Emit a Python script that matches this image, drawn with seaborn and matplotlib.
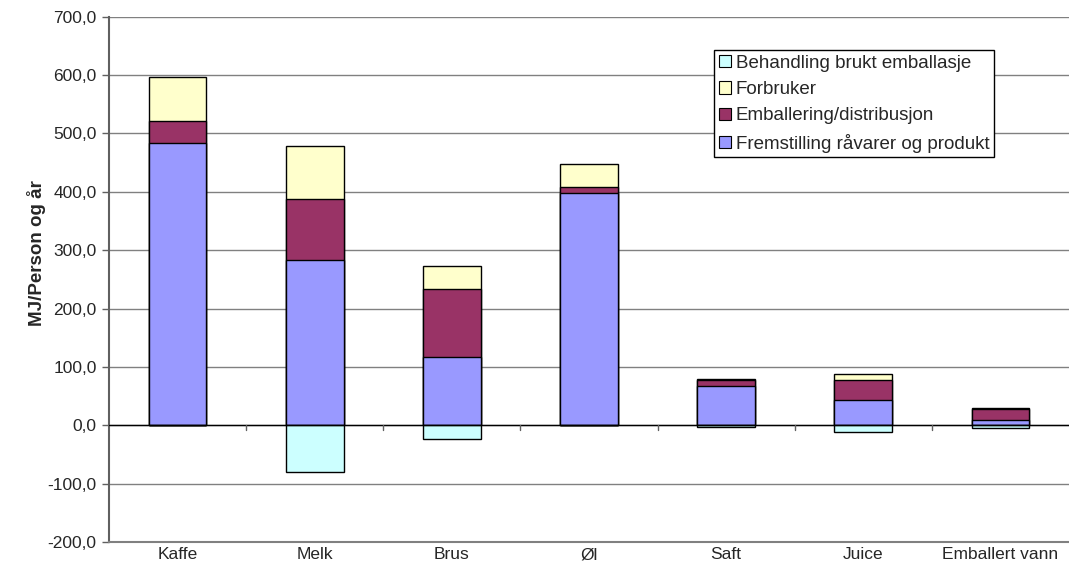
import matplotlib
matplotlib.use("Agg")
import matplotlib.pyplot as plt
from matplotlib.patches import Patch
from matplotlib.ticker import FuncFormatter, MultipleLocator
import numpy as np
import pandas as pd
import seaborn as sns

# Energy use per drink category (MJ per person and year)
categories = ["Kaffe", "Melk", "Brus", "Øl", "Saft", "Juice", "Emballert vann"]
fremstilling = [484, 283, 117, 398, 67, 44, 9]
emballering = [38, 105, 117, 10, 11, 34, 19]
forbruker = [74, 91, 39, 39, 1, 10, 2]
behandling = [0, -80, -24, 0, -3.5, -12, -4.5]

labels = [
    "Fremstilling råvarer og produkt",
    "Emballering/distribusjon",
    "Forbruker",
    "Behandling brukt emballasje",
]
colors = {
    "Fremstilling råvarer og produkt": "#9999FF",
    "Emballering/distribusjon": "#993366",
    "Forbruker": "#FFFFCC",
    "Behandling brukt emballasje": "#CCFFFF",
}

sns.set_theme(style="white")
plt.rcParams["font.family"] = ["Liberation Sans", "DejaVu Sans"]

df = pd.DataFrame({
    "kategori": categories,
    "fremstilling": fremstilling,
    "emballering": emballering,
    "forbruker": forbruker,
    "behandling": behandling,
})
# Cumulative tops for the stacked positive segments
df["lag1"] = df["fremstilling"]
df["lag2"] = df["lag1"] + df["emballering"]
df["lag3"] = df["lag2"] + df["forbruker"]

fig = plt.figure(figsize=(10.69, 5.79), dpi=100)
ax = fig.add_axes([0.102, 0.064, 0.898, 0.907])

# Horizontal gridlines behind the bars
ax.set_axisbelow(True)
ax.yaxis.grid(True, color="#808080", linewidth=1.0)

bar_kw = dict(width=0.42, edgecolor="black", linewidth=1.0, saturation=1, ax=ax)
sns.barplot(data=df, x="kategori", y="lag3", color=colors["Forbruker"], **bar_kw)
sns.barplot(data=df, x="kategori", y="lag2", color=colors["Emballering/distribusjon"], **bar_kw)
sns.barplot(data=df, x="kategori", y="lag1", color=colors["Fremstilling råvarer og produkt"], **bar_kw)
sns.barplot(data=df, x="kategori", y="behandling", color=colors["Behandling brukt emballasje"], **bar_kw)

ax.axhline(0, color="black", linewidth=1.0, zorder=3)

ax.set_xlim(-0.5, len(categories) - 0.5)
ax.set_ylim(-200, 700)
ax.yaxis.set_major_locator(MultipleLocator(100))
ax.yaxis.set_major_formatter(FuncFormatter(lambda v, p: f"{v:.1f}".replace(".", ",")))

ax.set_xlabel("")
ax.set_ylabel("MJ/Person og år", fontsize=13.5, fontweight="bold")
ax.yaxis.set_label_coords(-0.066, 0.55)

for side in ["top", "right"]:
    ax.spines[side].set_visible(False)
ax.spines["left"].set_color("#606060")
ax.spines["left"].set_linewidth(1.5)
ax.spines["bottom"].set_color("#808080")
ax.spines["bottom"].set_linewidth(1.5)

ax.tick_params(axis="y", which="major", length=5, width=1, color="#606060",
               left=True, labelsize=12.5, pad=4)
ax.tick_params(axis="x", which="major", length=0, labelsize=12.5, pad=4)
# Small marks on the zero line between the categories
for xb in np.arange(0.5, len(categories) - 0.5, 1.0):
    ax.plot([xb, xb], [0, -9], color="#606060", linewidth=1, zorder=3)

handles = [Patch(facecolor=colors[l], edgecolor="black", linewidth=0.8) for l in labels[::-1]]
leg = ax.legend(handles, labels[::-1], loc="upper left", bbox_to_anchor=(0.630, 0.937),
                fontsize=13.5, frameon=True, fancybox=False, edgecolor="black",
                framealpha=1, borderpad=0.25, labelspacing=0.5, handlelength=0.64,
                handleheight=0.64, handletextpad=0.28, borderaxespad=0)
leg.get_frame().set_linewidth(1.0)

fig.savefig("out.png", dpi=100)
